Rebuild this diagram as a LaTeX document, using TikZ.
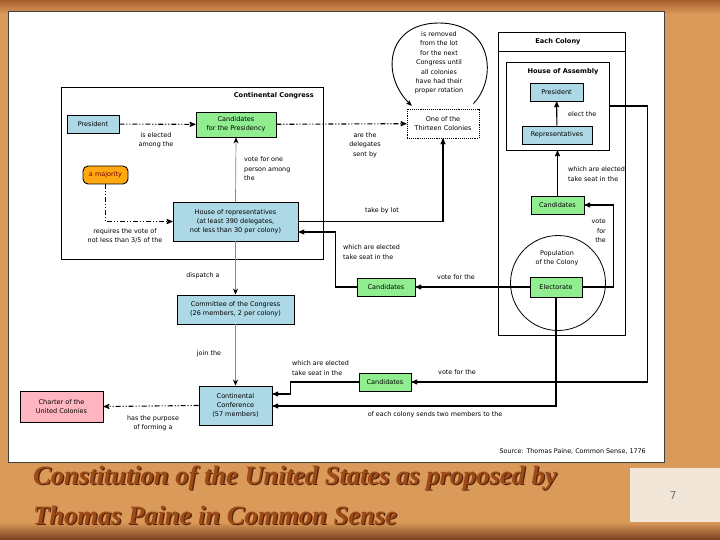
\documentclass[tikz,border=0pt]{standalone}
\usepackage{fontspec}
\setmainfont{DejaVu Sans}
\newfontfamily\titlefont{Liberation Serif}
\usetikzlibrary{calc}
\usetikzlibrary{arrows}
\usetikzlibrary{arrows.meta}
\usetikzlibrary{positioning}
\usepackage{xcolor}
\definecolor{boxblue}{RGB}{173,216,230}
\definecolor{boxgreen}{RGB}{144,238,144}
\definecolor{boxpink}{RGB}{255,182,193}
\definecolor{boxorange}{RGB}{255,168,18}
\definecolor{lightline}{RGB}{135,135,135}
\definecolor{parchtop}{RGB}{170,95,45}
\definecolor{parchmid}{RGB}{218,154,90}
\definecolor{parchbot}{RGB}{120,62,28}
\definecolor{titlebrown}{RGB}{158,74,22}
\definecolor{titleshadow}{RGB}{88,38,12}
\definecolor{pagecream}{RGB}{241,230,215}

\tikzset{
  nbox/.style={draw=black, line width=.9pt, minimum height=18pt, inner sep=1pt, align=center, font=\fontsize{6.5}{8.8}\selectfont},
  bluebox/.style={nbox, fill=boxblue},
  greenbox/.style={nbox, fill=boxgreen},
  pinkbox/.style={nbox, fill=boxpink},
  orangebox/.style={nbox, fill=boxorange, rounded corners=5pt, text=red!45!black},
  dotbox/.style={nbox, densely dotted, fill=white},
  holder/.style={draw=black, line width=.9pt, inner sep=0},
  lbl/.style={font=\fontsize{6.4}{9.4}\selectfont, align=center, inner sep=0},
  heading/.style={font=\bfseries\fontsize{6.6}{8}\selectfont, inner sep=0},
  link/.style={black, line width=1.1pt, ->, >=stealth'},
  graylink/.style={draw=lightline, line width=.7pt, -{Stealth[black, length=6pt, width=5pt]}},
  dashdot/.style={dash pattern=on 5pt off 2pt on 1pt off 2pt on 1pt off 2pt},
  titletext/.style={anchor=west, inner sep=0, font=\titlefont\bfseries\itshape\fontsize{26.5}{30}\selectfont}
}

\begin{document}
\begin{tikzpicture}[x=1pt,y=-1pt]
\useasboundingbox (0,0) rectangle (720,540);
% parchment background
\fill[parchmid] (0,0) rectangle (720,540);
\shade[top color=parchtop, bottom color=parchmid] (0,0) rectangle (720,14);
\shade[top color=parchmid, bottom color=parchbot] (0,522) rectangle (720,540);
\fill[pagecream] (630,468) rectangle (720,522);
\node[text=black!55, font=\fontsize{11}{12}\selectfont] (pagenum) at (673,495) {7};
% white sheet
\fill[white, draw=black!75, line width=.8pt] (8,11) rectangle (664,462);

% containers
\node[holder, minimum width=262pt, minimum height=172pt] (congress) at (192,173) {};
\node[heading, anchor=east] (congresstitle) at (314,96) {Continental Congress};
\node[holder, minimum width=127pt, minimum height=303pt] (colony) at (561.5,183.5) {};
\draw[line width=.9pt] ($(colony.north west)+(0,20)$) -- ($(colony.north east)+(0,20)$);
\node[heading] (colonytitle) at (558,42) {Each Colony};
\node[holder, minimum width=103pt, minimum height=88pt] (assembly) at (557.5,106) {};
\node[heading] (assemblytitle) at (563,72) {House of Assembly};
\node[circle, draw=black, line width=.8pt, minimum size=95pt, inner sep=0] (population) at (558,283) {};
\node[lbl] (poptext) at (557,258) {Population\\of the Colony};

% boxes
\node[bluebox, minimum width=52pt] (ccpres) at (93,124) {President};
\node[greenbox, minimum width=80pt, minimum height=25pt] (cand) at (236,124.5) {Candidates\\for the Presidency};
\node[dotbox, minimum width=72pt, minimum height=29pt] (thirteen) at (443,123.5) {One of the\\Thirteen Colonies};
\node[orangebox, minimum width=45pt] (majority) at (105.5,175) {a majority};
\node[bluebox, minimum width=125pt, minimum height=39pt] (house) at (235.5,221.5) {House of representatives\\(at least 390 delegates,\\not less than 30 per colony)};
\node[bluebox, minimum width=117pt, minimum height=29pt] (committee) at (235.5,309.5) {Committee of the Congress\\(26 members, 2 per colony)};
\node[bluebox, minimum width=73pt, minimum height=39pt] (conference) at (235.5,405.5) {Continental\\Conference\\(57 members)};
\node[pinkbox, minimum width=83pt, minimum height=31pt] (charter) at (61.5,406.5) {Charter of the\\United Colonies};
\node[greenbox, minimum width=58pt] (candmid) at (386,287) {Candidates};
\node[greenbox, minimum width=52pt] (candbot) at (385,382) {Candidates};
\node[bluebox, minimum width=53pt] (colpres) at (556.5,92) {President};
\node[bluebox, minimum width=70pt] (reps) at (557,135) {Representatives};
\node[greenbox, minimum width=53pt] (candcol) at (557.5,205) {Candidates};
\node[greenbox, minimum width=52pt, minimum height=20pt] (elect) at (556,287) {Electorate};

% rotation loop
\coordinate (loopstart) at ($(thirteen.north east)+(-6,-5)$);
\coordinate (loopend) at ($(thirteen.north west)+(5,-3)$);
\draw[black, line width=.9pt, ->, >=stealth'] (loopstart) .. controls (498,78) and (492,23) .. (439,23) .. controls (386,23) and (380,76) .. (loopend);
\node[lbl] (rotation) at (439,63) {is removed\\from the lot\\for the next\\Congress until\\all colonies\\have had their\\proper rotation};

% connectors inside the Congress
\draw[link, dashdot] (ccpres) -- (cand);
\node[lbl] (lelected) at (156,140) {is elected\\among the};
\draw[link, dashdot] (cand) -- (thirteen);
\node[lbl] (ldelegates) at (365,145) {are the\\delegates\\sent by};
\draw[link, dashdot] (majority.south) |- (house.west);
\node[lbl] (lrequires) at (125,236) {requires the vote of\\not less than 3/5 of the};
\draw[graylink] (house.north) -- (cand.south);
\node[lbl, anchor=west, align=left] (lvoteone) at (244,169) {vote for one\\person among\\the};
\draw[link] (house.east) -| (thirteen.south);
\node[lbl] (llot) at (382,211) {take by lot};
\draw[link] (candmid.west) -- ++(-21,0) |- ($(house.east)+(0,10.5)$);
\node[lbl, anchor=west, align=left] (lseatone) at (343,252) {which are elected\\take seat in the};
\draw[link] (elect.west) -- (candmid.east);
\node[lbl] (lvotemid) at (456,277) {vote for the};
\draw[graylink] (house.south) -- (committee.north);
\node[lbl] (ldispatch) at (203,276) {dispatch a};
\draw[graylink] (committee.south) -- (conference.north);
\node[lbl] (ljoin) at (209,354) {join the};
\draw[link, dashdot] (conference.west) -- (charter.east);
\node[lbl] (lpurpose) at (153,423) {has the purpose\\of forming a};
\draw[link] (candbot.west) -- ++(-68,0) |- ($(conference.east)+(0,-11.5)$);
\node[lbl, anchor=west, align=left] (lseattwo) at (292,368) {which are elected\\take seat in the};
\draw[link] (elect.south) |- ($(conference.east)+(0,0.5)$);
\node[lbl] (lsends) at (435,415) {of each colony sends two members to the};
\draw[link] (assembly.east) -- ++(38,0) |- (candbot.east);
\node[lbl] (lvotebot) at (457,372) {vote for the};

% inside each colony
\draw[link] (reps) -- (colpres);
\node[lbl, anchor=west] (lelect) at (568,114) {elect the};
\draw[link] (candcol) -- (assembly.south);
\node[lbl, anchor=west, align=left] (lseatcol) at (568,174) {which are elected\\take seat in the};
\draw[link] (elect.east) -- ++(31,0) |- (candcol.east);
\node[lbl, anchor=east, align=right] (lvotecol) at (606,231) {vote\\for\\the};

\node[lbl, anchor=east] (source) at (646,451) {Source: Thomas Paine, Common Sense, 1776};

% slide title
\node[titletext, text=titleshadow] (titleoneshadow) at (34.3,479.3) {Constitution of the United States as proposed by};
\node[titletext, text=titlebrown] (titleone) at (33,478) {Constitution of the United States as proposed by};
\node[titletext, text=titleshadow] (titletwoshadow) at (34.3,516.3) {Thomas Paine in Common Sense};
\node[titletext, text=titlebrown] (titletwo) at (33,515) {Thomas Paine in Common Sense};
\end{tikzpicture}
\end{document}
